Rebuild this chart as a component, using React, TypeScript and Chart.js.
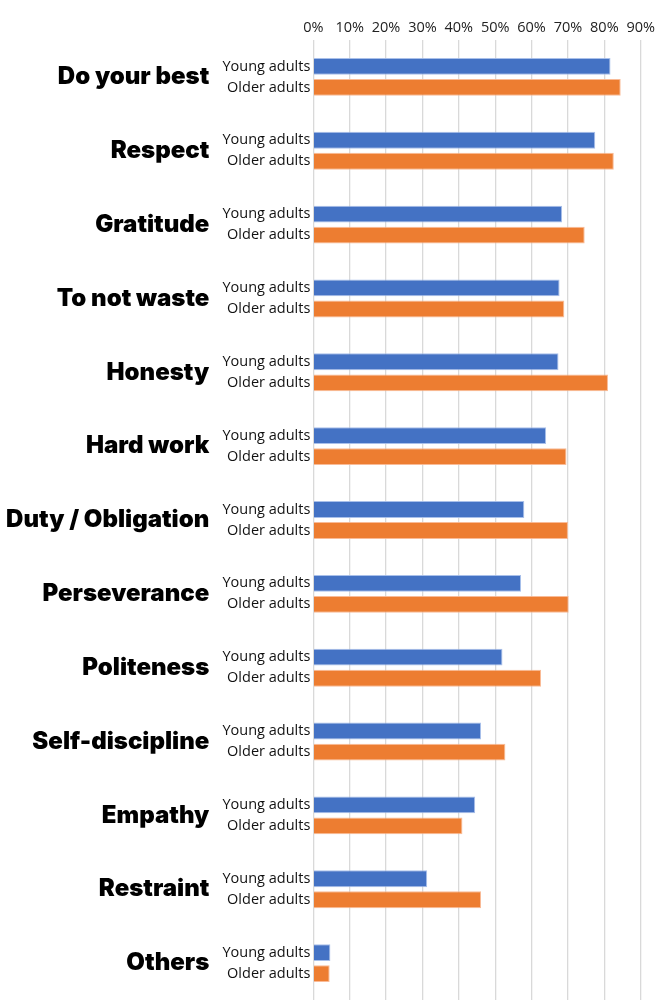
import React, { useEffect, useRef } from "react";
import { Chart, registerables } from "chart.js";

Chart.register(...registerables);

const categories = [
  "Do your best",
  "Respect",
  "Gratitude",
  "To not waste",
  "Honesty",
  "Hard work",
  "Duty / Obligation",
  "Perseverance",
  "Politeness",
  "Self-discipline",
  "Empathy",
  "Restraint",
  "Others",
];
const seriesNames = ["Young adults", "Older adults"];
const youngAdults = [81.7, 77.5, 68.4, 67.7, 67.4, 64.0, 58.0, 57.1, 52.0, 46.1, 44.5, 31.3, 4.7];
const olderAdults = [84.5, 82.6, 74.6, 69.0, 81.0, 69.6, 70.0, 70.2, 62.6, 52.8, 41.0, 46.1, 4.5];
const xTickValues = [0, 10, 20, 30, 40, 50, 60, 70, 80, 90];

const W = 658;
const H = 1000;

const barLabelPlugin = {
  id: "barLabels",
  afterDatasetsDraw(chart: any) {
    const ctx = chart.ctx;
    const left = chart.chartArea.left;
    ctx.save();
    ctx.font = "14.5px 'Open Sans'";
    ctx.fillStyle = "#111";
    ctx.textAlign = "right";
    ctx.textBaseline = "middle";
    chart.data.datasets.forEach((ds: any, di: number) => {
      const meta = chart.getDatasetMeta(di);
      meta.data.forEach((el: any) => {
        ctx.fillText(ds.label, left - 3, el.y);
      });
    });
    ctx.restore();
  },
};

export default function App() {
  const ref = useRef<HTMLCanvasElement | null>(null);
  useEffect(() => {
    if (!ref.current) return;
    const chart = new Chart(ref.current, {
      type: "bar",
      data: {
        labels: categories,
        datasets: [
          {
            label: seriesNames[0],
            data: youngAdults,
            backgroundColor: "#4472C4",
            borderColor: "rgba(160,185,232,0.9)",
            borderWidth: 1,
            categoryPercentage: 0.57,
            barPercentage: 0.8,
          },
          {
            label: seriesNames[1],
            data: olderAdults,
            backgroundColor: "#ED7D31",
            borderColor: "rgba(248,180,140,0.9)",
            borderWidth: 1,
            categoryPercentage: 0.57,
            barPercentage: 0.8,
          },
        ],
      },
      options: {
        indexAxis: "y",
        responsive: false,
        animation: false,
        devicePixelRatio: 1,
        layout: { padding: { left: 0, right: 14.7, top: 0, bottom: 0 } },
        plugins: {
          legend: { display: false },
          tooltip: { enabled: false },
        },
        scales: {
          x: {
            position: "top",
            min: 0,
            max: 90,
            afterBuildTicks(scale: any) {
              scale.ticks = xTickValues.map((v) => ({ value: v }));
            },
            afterFit(scale: any) {
              scale.height = 40;
            },
            ticks: {
              padding: 3,
              font: { family: "'Open Sans'", size: 14.5 },
              color: "#222",
              callback: (v: any) => v + "%",
            },
            grid: { color: "#d9d9d9", lineWidth: 1.3, drawTicks: false },
            border: { display: false },
          },
          y: {
            afterFit(scale: any) {
              scale.width = 313.3;
              scale.paddingTop = 0;
              scale.paddingBottom = 0;
            },
            ticks: {
              padding: 104,
              font: { family: "Inter", size: 24, weight: "900" },
              color: "#000",
            },
            grid: { display: false, drawTicks: false },
            border: { display: false },
          },
        },
      },
      plugins: [barLabelPlugin],
    });
    return () => chart.destroy();
  }, []);
  return (
    <div style={{ position: "absolute", left: 0, top: 0, width: W, height: H, background: "#fff" }}>
      <canvas ref={ref} width={W} height={H} style={{ width: W, height: H, display: "block" }} />
    </div>
  );
}
